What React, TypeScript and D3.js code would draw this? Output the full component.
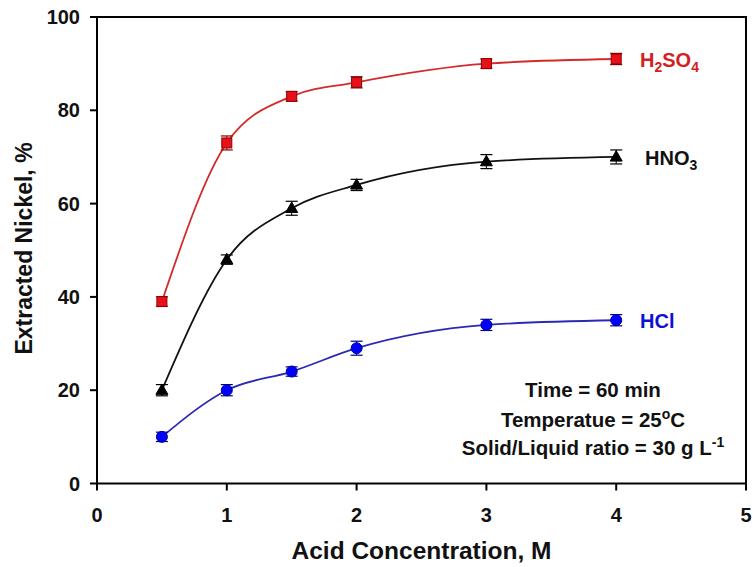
import React from 'react';
import * as d3 from 'd3';

const concentrations = [0.5, 1, 1.5, 2, 3, 4];
const h2so4 = [39, 73, 83, 86, 90, 91];
const h2so4Err = [1, 1.5, 1, 1.2, 1, 1.2];
const hno3 = [20, 48, 59, 64, 69, 70];
const hno3Err = [1.2, 1, 1.5, 1.2, 1.5, 1.5];
const hcl = [10, 20, 24, 29, 34, 35];
const hclErr = [1, 1.2, 1, 1.5, 1.2, 1.2];
const xTicks = [0, 1, 2, 3, 4, 5];
const yTicks = [0, 20, 40, 60, 80, 100];

const W = 753, H = 567;
const L = 97, R = 746, T = 17, B = 483.5;
const font = '"Liberation Sans", Arial, sans-serif';

export default function App() {
  const x = d3.scaleLinear().domain([0, 5]).range([L, R]);
  const y = d3.scaleLinear().domain([0, 100]).range([B, T]);
  const line = d3.line<number>().x((_, i) => x(concentrations[i])).y(d => y(d)).curve(d3.curveMonotoneX);

  const series = [
    { vals: h2so4, err: h2so4Err, stroke: '#d42a2a', fill: '#e8111a', edge: '#8a0000', shape: 'square' },
    { vals: hno3, err: hno3Err, stroke: '#111', fill: '#000', edge: '#000', shape: 'triangle' },
    { vals: hcl, err: hclErr, stroke: '#2a2ab4', fill: '#0000ff', edge: '#00008a', shape: 'circle' },
  ];

  const marker = (shape: string, cx: number, cy: number, fill: string, edge: string, key: string) => {
    if (shape === 'square') return <rect key={key} x={cx - 5} y={cy - 5} width={10} height={10} fill={fill} stroke={edge} strokeWidth={1} />;
    if (shape === 'circle') return <circle key={key} cx={cx} cy={cy} r={5.5} fill={fill} stroke={edge} strokeWidth={1} />;
    const s = 12;
    const h = s * Math.sqrt(3) / 2;
    return <path key={key} d={`M${cx},${cy - h * 0.6}L${cx + s / 2},${cy + h * 0.4}L${cx - s / 2},${cy + h * 0.4}Z`} fill={fill} stroke={edge} strokeWidth={1} />;
  };

  return (
    <svg width={W} height={H} style={{ position: 'absolute', left: 0, top: 0 }} fontFamily={font} fontWeight="bold">
      <rect x={0} y={0} width={W} height={H} fill="#fff" />
      {series.map((s, si) => (
        <g key={si}>
          <path d={line(s.vals) || ''} fill="none" stroke={s.stroke} strokeWidth={1.8} />
          {s.vals.map((v, i) => {
            const cx = x(concentrations[i]);
            const y1 = y(v + s.err[i]), y2 = y(v - s.err[i]);
            return (
              <g key={i}>
                <line x1={cx} x2={cx} y1={y1} y2={y2} stroke={s.edge} strokeWidth={1} />
                <line x1={cx - 6} x2={cx + 6} y1={y1} y2={y1} stroke={s.edge} strokeWidth={1.2} />
                <line x1={cx - 6} x2={cx + 6} y1={y2} y2={y2} stroke={s.edge} strokeWidth={1.2} />
                {marker(s.shape, cx, y(v), s.fill, s.edge, 'm' + i)}
              </g>
            );
          })}
        </g>
      ))}
      <rect x={L} y={T} width={R - L} height={B - T} fill="none" stroke="#000" strokeWidth={2} />
      {xTicks.map(t => (
        <g key={'x' + t}>
          <line x1={x(t)} x2={x(t)} y1={B} y2={B + 7} stroke="#000" strokeWidth={2} />
          <text x={x(t)} y={522} textAnchor="middle" fontSize={20} fill="#111">{t}</text>
        </g>
      ))}
      {yTicks.map(t => (
        <g key={'y' + t}>
          <line x1={L - 7} x2={L} y1={y(t)} y2={y(t)} stroke="#000" strokeWidth={2} />
          <text x={80} y={y(t) + 7} textAnchor="end" fontSize={20} fill="#111">{t}</text>
        </g>
      ))}
      <text x={421.5} y={559} textAnchor="middle" fontSize={24.5} fill="#111">Acid Concentration, M</text>
      <text transform={`translate(32,248.5) rotate(-90)`} textAnchor="middle" fontSize={23} fill="#111">Extracted Nickel, %</text>
      <text x={640} y={67} fontSize={20} fill="#d42020">H<tspan fontSize={14} dy={5}>2</tspan><tspan dy={-5}>SO</tspan><tspan fontSize={14} dy={5}>4</tspan></text>
      <text x={645} y={165} fontSize={20} fill="#111">HNO<tspan fontSize={14} dy={5}>3</tspan></text>
      <text x={640} y={328} fontSize={20} fill="#1010d0">HCl</text>
      <text x={593} y={397} textAnchor="middle" fontSize={20.5} fill="#111">Time = 60 min</text>
      <text x={593} y={427} textAnchor="middle" fontSize={20.5} fill="#111">Temperatue = 25<tspan fontSize={14} dy={-8}>o</tspan><tspan dy={8}>C</tspan></text>
      <text x={593} y={455} textAnchor="middle" fontSize={20.5} fill="#111">Solid/Liquid ratio = 30 g L<tspan fontSize={14} dy={-8}>-1</tspan></text>
    </svg>
  );
}
